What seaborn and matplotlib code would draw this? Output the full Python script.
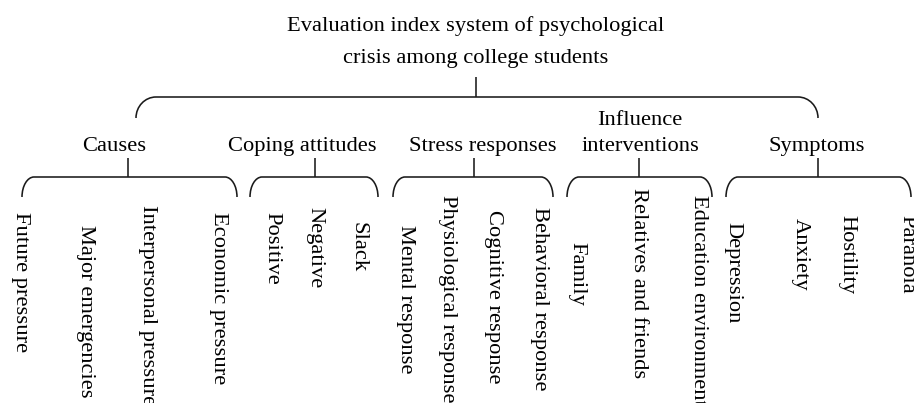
import numpy as np
import matplotlib
matplotlib.use("Agg")
import matplotlib.pyplot as plt
from matplotlib.path import Path
from matplotlib.patches import PathPatch
import seaborn as sns

# ---------------- data (texts of the hierarchy) ----------------
title_lines = ["Evaluation index system of psychological",
               "crisis among college students"]
categories = ["Causes", "Coping attitudes", "Stress responses",
              "Influence\ninterventions", "Symptoms"]
causes = ["Future pressure", "Major emergencies", "Interpersonal pressure",
          "Economic pressure"]
coping = ["Positive", "Negative", "Slack"]
stress = ["Mental response", "Physiological response", "Cognitive response",
          "Behavioral response"]
influence = ["Family", "Relatives and friends", "Education environment"]
symptoms = ["Depression", "Anxiety", "Hostility", "Paranoia"]
leaves = [causes, coping, stress, influence, symptoms]

# ---------------- layout (pixel coordinates of the diagram) ----------------
W, H = 914, 403
title_x = 476
title_baselines = [31, 63]
root_stem = (476, 77)           # x, top of stem
top_brace = (136, 818, 97, 118, 20)   # x0, x1, y_h, y_end, rx
cat_label_x = [114, 302, 483, 640, 817]
cat_baseline = 151
cat_line_gap = 26
cat_stem_x = [128, 315, 474, 639, 818]
cat_stem_top = 158
cat_braces = [(22, 237), (250, 378), (393, 553), (567, 712), (726, 911)]
sub_y_h, sub_y_end, sub_rx = 177, 197, 12
leaf_x = [[20, 85, 147, 218], [272, 315, 358], [405, 448, 493, 540],
          [577, 638, 698], [733, 800, 847, 907]]
leaf_top = [[212, 225, 205, 212], [212, 207, 222], [225, 195, 210, 207],
            [242, 188, 195], [222, 218, 215, 215]]

FONT = ["Liberation Serif", "DejaVu Serif"]
FS = 16.2
LC = "#1a1a1a"
LW = 1.15

sns.set_theme(style="white")
plt.rcParams["font.family"] = FONT

fig = plt.figure(figsize=(W / 100, H / 100), dpi=100)
ax = fig.add_axes([0, 0, 1, 1])
ax.set_xlim(0, W)
ax.set_ylim(H, 0)
ax.axis("off")

K = 0.5523


def brace(x0, x1, y_h, y_end, rx):
    ry = y_end - y_h
    verts = [(x0, y_end), (x0, y_end - K * ry), (x0 + rx - K * rx, y_h), (x0 + rx, y_h),
             (x1 - rx, y_h),
             (x1 - rx + K * rx, y_h), (x1, y_end - K * ry), (x1, y_end)]
    codes = [Path.MOVETO, Path.CURVE4, Path.CURVE4, Path.CURVE4,
             Path.LINETO,
             Path.CURVE4, Path.CURVE4, Path.CURVE4]
    ax.add_patch(PathPatch(Path(verts, codes), fill=False, ec=LC, lw=LW,
                           capstyle="butt", joinstyle="round"))


# title
for line, yb in zip(title_lines, title_baselines):
    ax.text(title_x, yb, line, ha="center", va="baseline", fontsize=FS,
            color="black")

# root stem + top brace
ax.plot([root_stem[0], root_stem[0]], [root_stem[1], top_brace[2]], color=LC, lw=LW,
        solid_capstyle="butt")
brace(*top_brace)

# categories
for i, cat in enumerate(categories):
    lines = cat.split("\n")
    for j, ln in enumerate(lines):
        yb = cat_baseline - (len(lines) - 1 - j) * cat_line_gap
        ax.text(cat_label_x[i], yb, ln, ha="center", va="baseline",
                fontsize=FS, color="black")
    ax.plot([cat_stem_x[i], cat_stem_x[i]], [cat_stem_top, sub_y_h], color=LC,
            lw=LW, solid_capstyle="butt")
    x0, x1 = cat_braces[i]
    brace(x0, x1, sub_y_h, sub_y_end, sub_rx)
    for k, leaf in enumerate(leaves[i]):
        ax.text(leaf_x[i][k], leaf_top[i][k], leaf, rotation=270, ha="center",
                va="top", fontsize=FS, color="black")

fig.savefig("out.png", dpi=100)
